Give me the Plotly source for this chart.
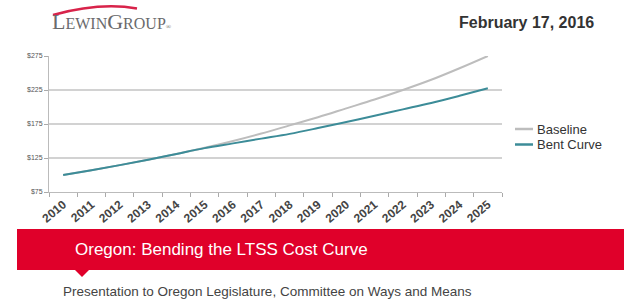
import plotly.graph_objects as go

years = [str(y) for y in range(2010, 2026)]
baseline = [100, 107, 114.5, 122.5, 131, 140, 150, 161, 173, 185, 198, 211, 225, 240, 257, 275]
bent_curve = [100, 107, 114.5, 122.5, 131, 139.5, 146.5, 153.5, 160.5, 169, 178, 187, 196.5, 206, 216.5, 227.5]
series_names = ["Baseline", "Bent Curve"]
series_colors = ["#bdbdbd", "#3c8c98"]
y_ticks = [75, 125, 175, 225, 275]
y_tick_labels = ["$75", "$125", "$175", "$225", "$275"]

W, H = 624, 302
L, R, T, B = 49, 502, 56, 192

def px(x):
    return (x - L) / (R - L)

def py(y):
    return (B - y) / (B - T)

fig = go.Figure()
for name, vals, col in zip(series_names, [baseline, bent_curve], series_colors):
    fig.add_trace(go.Scatter(x=years, y=vals, mode="lines", name=name,
                             line=dict(color=col, width=2, shape="spline")))

fig.update_layout(
    width=W, height=H,
    margin=dict(l=L, r=W - R, t=T, b=H - B, pad=0, autoexpand=False),
    paper_bgcolor="white", plot_bgcolor="white",
    font=dict(family="Liberation Sans, Arial, sans-serif", color="#444"),
    showlegend=False,
    xaxis=dict(type="category", tickangle=-40, tickson="boundaries",
               ticks="outside", ticklen=4, tickcolor="#aaa", automargin=False,
               showline=True, linecolor="#bbb", showgrid=False,
               tickfont=dict(size=12, color="#444", family="Liberation Sans, Arial", weight="bold"),
               range=[-0.5, 15.5]),
    yaxis=dict(range=[75, 275], tickvals=y_ticks, ticktext=y_tick_labels,
               ticks="outside", ticklen=4, tickcolor="#aaa", automargin=False,
               showline=True, linecolor="#bbb", showgrid=True, gridcolor="#d2d2d2",
               gridwidth=1.5, zeroline=False,
               tickfont=dict(size=7, color="#555")),
)

# legend (manual)
for i, (name, col) in enumerate(zip(series_names, series_colors)):
    yy = 129 + i * 15.5
    fig.add_shape(type="line", xref="paper", yref="paper",
                  x0=px(515), x1=px(533), y0=py(yy), y1=py(yy),
                  line=dict(color=col, width=2.5))
    fig.add_annotation(xref="paper", yref="paper", x=px(535), y=py(yy), xanchor="left", yanchor="middle",
                       text=name, showarrow=False, font=dict(size=13, color="#333"))

# red banner
fig.add_shape(type="rect", xref="paper", yref="paper",
              x0=px(17), x1=px(630), y0=py(270), y1=py(229),
              fillcolor="#e0002a", line=dict(width=0), layer="above")
fig.add_shape(type="path", xref="paper", yref="paper",
              path=f"M {px(74)},{py(269)} L {px(90)},{py(269)} L {px(82)},{py(277)} Z",
              fillcolor="#e0002a", line=dict(width=0), layer="above")
# logo arc
fig.add_shape(type="path", xref="paper", yref="paper",
              path=f"M {px(53)},{py(15)} Q {px(100)},{py(2)} {px(137)},{py(8.5)}",
              line=dict(color="#d8234a", width=2.5), layer="above")

fig.add_annotation(xref="paper", yref="paper", x=px(50), y=py(21), xanchor="left", yanchor="middle",
                   text="L<span style='font-size:16px'>EWIN</span>G<span style='font-size:16px'>ROUP</span><span style='font-size:7px'>®</span>",
                   showarrow=False, font=dict(family="Liberation Serif, serif", size=22, color="#6a6a6c"))
fig.add_annotation(xref="paper", yref="paper", x=px(596), y=py(22), xanchor="right", yanchor="middle",
                   text="<b>February 17, 2016</b>", showarrow=False,
                   font=dict(size=16, color="#333"))
fig.add_annotation(xref="paper", yref="paper", x=px(73), y=py(249), xanchor="left", yanchor="middle",
                   text="Oregon: Bending the LTSS Cost Curve", showarrow=False,
                   font=dict(size=17, color="white"))
fig.add_annotation(xref="paper", yref="paper", x=px(61), y=py(291), xanchor="left", yanchor="middle",
                   text="Presentation to Oregon Legislature, Committee on Ways and Means", showarrow=False,
                   font=dict(size=13.5, color="#444"))

fig.write_html("out.html", config={"displayModeBar": False},
               post_script="document.body.style.margin='0';")
